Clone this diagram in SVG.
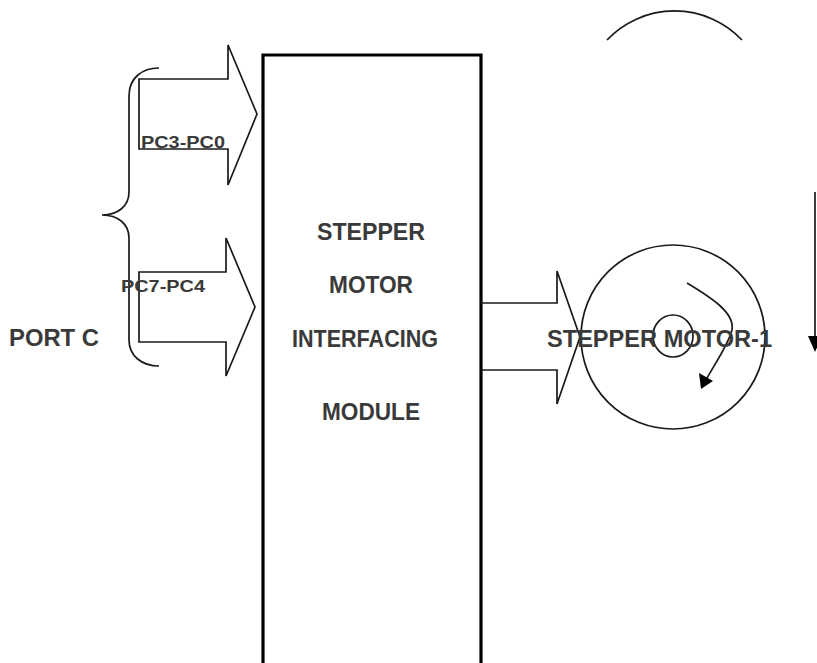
<svg xmlns="http://www.w3.org/2000/svg" width="817" height="663" viewBox="0 0 817 663">
<style>
.ln{fill:none;stroke:#1a1a1a;stroke-width:1.7;stroke-linejoin:miter}
.t{font-family:"Liberation Sans",Arial,sans-serif;font-weight:bold;fill:#3a3a3a}
.big{font-size:23px}
.sm{font-size:17px}
</style>
<rect width="817" height="663" fill="#fff"/>
<g id="module">
<path d="M263,666 V55 H481 V666" fill="none" stroke="#000" stroke-width="3.2"/>
<text class="t big" x="317" y="240" textLength="108" lengthAdjust="spacingAndGlyphs">STEPPER</text>
<text class="t big" x="329" y="293" textLength="84" lengthAdjust="spacingAndGlyphs">MOTOR</text>
<text class="t big" x="292" y="347" textLength="146" lengthAdjust="spacingAndGlyphs">INTERFACING</text>
<text class="t big" x="322" y="420" textLength="98" lengthAdjust="spacingAndGlyphs">MODULE</text>
</g>
<g id="portc">
<path class="ln" d="M159,68 C142,68 129,78 129,96 L129,192 C129,206 118,215 102,215 C118,215 129,224 129,238 L129,340 C129,356 142,366 159,366"/>
<text class="t big" x="9" y="346" textLength="90" lengthAdjust="spacingAndGlyphs">PORT C</text>
</g>
<g id="connectors">
<path id="bus-pc3-pc0" class="ln" d="M228,79 H139 V149 H228 V185 L257,114 L228,45 Z"/>
<path id="bus-pc7-pc4" class="ln" d="M226,272 H139 V342 H226 V376 L255,307 L226,238 Z"/>
<path id="bus-out" class="ln" d="M481,303 H557 V271 L580,337 L557,404 V370 H481"/>
</g>
<g id="labels">
<text class="t sm" x="141" y="148" textLength="84" lengthAdjust="spacingAndGlyphs">PC3-PC0</text>
<text class="t sm" x="121" y="292" textLength="84" lengthAdjust="spacingAndGlyphs">PC7-PC4</text>
</g>
<g id="motor">
<circle class="ln" cx="673" cy="337" r="92"/>
<ellipse class="ln" cx="673" cy="336" rx="20" ry="21"/>
<path class="ln" d="M687,283 C712,298 735,313 732,330 C728,345 716,362 707,378"/>
<polygon points="701,389 699,373 713,381" fill="#000"/>
<text class="t big" x="547" y="347" textLength="225" lengthAdjust="spacingAndGlyphs">STEPPER MOTOR-1</text>
</g>
<g id="rotation">
<path class="ln" d="M607,40 A93,93 0 0 1 742,40"/>
<path class="ln" d="M815,192 V340"/>
<polygon points="808,336 822,336 815,352" fill="#000"/>
</g>
</svg>
